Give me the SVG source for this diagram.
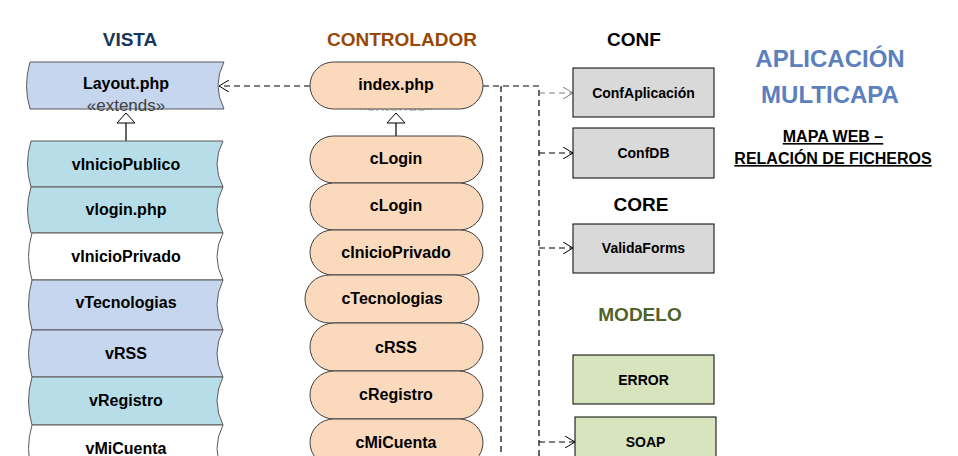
<svg xmlns="http://www.w3.org/2000/svg" width="958" height="456" viewBox="0 0 958 456">
<defs>
<marker id="open" viewBox="0 0 10 12" refX="10" refY="6" markerWidth="10" markerHeight="12" markerUnits="userSpaceOnUse" orient="auto">
<path d="M0,0 L10,6 L0,12" fill="none" stroke="#000" stroke-width="1"/>
</marker>
<marker id="openg" viewBox="0 0 10 12" refX="10" refY="6" markerWidth="10" markerHeight="12" markerUnits="userSpaceOnUse" orient="auto">
<path d="M0,0 L10,6 L0,12" fill="none" stroke="#7f7f7f" stroke-width="1"/>
</marker>
</defs>
<style>
text{font-family:"Liberation Sans",Arial,sans-serif;text-anchor:middle;}
.t{font-weight:bold;font-size:19px;}
.n{font-weight:bold;font-size:16px;fill:#000;}
.b{font-weight:bold;font-size:14px;fill:#000;}
.v{stroke:#595959;stroke-width:1;}
.p{fill:#fad9bd;stroke:#404040;stroke-width:1;}
.g{fill:#d9d9d9;stroke:#000;stroke-width:1;}
.m{fill:#d7e4bd;stroke:#000;stroke-width:1;}
.dash{fill:none;stroke:#000;stroke-width:1.2;stroke-dasharray:6,4;}
.ext{font-size:17px;fill:#404040;}
</style>
<rect width="958" height="456" fill="#fff"/>

<g id="titles">
<text class="t" x="130" y="46" fill="#17365d">VISTA</text>
<text class="t" x="402" y="46" fill="#984806">CONTROLADOR</text>
<text class="t" x="634" y="46" fill="#000">CONF</text>
<text class="t" x="641" y="211" fill="#000">CORE</text>
<text class="t" x="640" y="321" fill="#4f6228">MODELO</text>
<text x="830" y="67" font-weight="bold" font-size="24" fill="#5b80bd">APLICACIÓN</text>
<text x="830" y="103" font-weight="bold" font-size="24" fill="#5b80bd">MULTICAPA</text>
<text x="833" y="142" font-weight="bold" font-size="16" text-decoration="underline" fill="#000">MAPA WEB –</text>
<text x="833" y="164" font-weight="bold" font-size="16" text-decoration="underline" fill="#000">RELACIÓN DE FICHEROS</text>
</g>

<g id="connectors">
<path class="dash" d="M310,86 H219" marker-end="url(#open)"/>
<path class="dash" d="M483,86 H539 V456"/>
<path class="dash" d="M501,86 V456"/>
<path class="dash" d="M539,93 H573" style="stroke:#7f7f7f" marker-end="url(#openg)"/>
<path class="dash" d="M539,153 H573" marker-end="url(#open)"/>
<path class="dash" d="M539,248 H573" marker-end="url(#open)"/>
<path class="dash" d="M539,442 H575" marker-end="url(#open)"/>
<path d="M126,123 V141" stroke="#000" stroke-width="1.2"/>
<path d="M396,123 V136" stroke="#000" stroke-width="1.2"/>
</g>

<g id="vista-layout">
<path class="v" fill="#c6d6ee" d="M30,62 H224 Q212,85.5 224,109 H30 Q23,85.5 30,62 Z"/>
<text class="n" x="126" y="89">Layout.php</text>
<text class="ext" x="126" y="111">«extends»</text>
</g>
<path d="M117,123 L126,113 L135,123 Z" fill="#fff" stroke="#000" stroke-width="1"/>

<g id="vista-vInicioPublico">
<path class="v" fill="#b7dee8" d="M31,141 H223 Q211,164 223,187 H31 Q24,164 31,141 Z"/>
<text class="n" x="126" y="170">vInicioPublico</text>
</g>
<g id="vista-vlogin">
<path class="v" fill="#b7dee8" d="M31,187 H223 Q211,210 223,233 H31 Q24,210 31,187 Z"/>
<text class="n" x="126" y="215">vlogin.php</text>
</g>
<g id="vista-vInicioPrivado">
<path class="v" fill="#ffffff" d="M32,233 H223 Q211,256.5 223,280 H32 Q25,256.5 32,233 Z"/>
<text class="n" x="126" y="262">vInicioPrivado</text>
</g>
<g id="vista-vTecnologias">
<path class="v" fill="#c6d6ee" d="M32,280 H223 Q211,305 223,330 H32 Q25,305 32,280 Z"/>
<text class="n" x="126" y="308">vTecnologias</text>
</g>
<g id="vista-vRSS">
<path class="v" fill="#c6d6ee" d="M32,330 H223 Q211,353.5 223,377 H32 Q25,353.5 32,330 Z"/>
<text class="n" x="126" y="359">vRSS</text>
</g>
<g id="vista-vRegistro">
<path class="v" fill="#b7dee8" d="M32,377 H223 Q211,401 223,425 H32 Q25,401 32,377 Z"/>
<text class="n" x="126" y="406">vRegistro</text>
</g>
<g id="vista-vMiCuenta">
<path class="v" fill="#ffffff" d="M32,425 H223 Q211,448.5 223,472 H32 Q25,448.5 32,425 Z"/>
<text class="n" x="126" y="454">vMiCuenta</text>
</g>

<g id="ctrl-index">
<text class="ext" x="396" y="111" style="fill:#bfbfbf">«extends»</text>
<rect class="p" x="310" y="62" width="173" height="47" rx="23.5"/>
<text class="n" x="396" y="90">index.php</text>
</g>
<path d="M387,123 L396,113 L405,123 Z" fill="#fff" stroke="#000" stroke-width="1"/>
<g id="ctrl-cLogin1">
<rect class="p" x="310" y="136" width="173" height="47" rx="23.5"/>
<text class="n" x="396" y="164">cLogin</text>
</g>
<g id="ctrl-cLogin2">
<rect class="p" x="310" y="183" width="173" height="47" rx="23.5"/>
<text class="n" x="396" y="211">cLogin</text>
</g>
<g id="ctrl-cInicioPrivado">
<rect class="p" x="310" y="230" width="173" height="45" rx="22.5"/>
<text class="n" x="396" y="258">cInicioPrivado</text>
</g>
<g id="ctrl-cTecnologias">
<rect class="p" x="305" y="275" width="174" height="48" rx="24"/>
<text class="n" x="392" y="304">cTecnologias</text>
</g>
<g id="ctrl-cRSS">
<rect class="p" x="310" y="323" width="173" height="48" rx="24"/>
<text class="n" x="396" y="353">cRSS</text>
</g>
<g id="ctrl-cRegistro">
<rect class="p" x="310" y="371" width="173" height="48" rx="24"/>
<text class="n" x="396" y="400">cRegistro</text>
</g>
<g id="ctrl-cMiCuenta">
<rect class="p" x="310" y="419" width="173" height="47" rx="23.5"/>
<text class="n" x="396" y="448">cMiCuenta</text>
</g>

<g id="conf-ConfAplicacion">
<rect class="g" x="573" y="68" width="141" height="49"/>
<text class="b" x="643.5" y="98">ConfAplicación</text>
</g>
<g id="conf-ConfDB">
<rect class="g" x="573" y="128" width="141" height="50"/>
<text class="b" x="643.5" y="158">ConfDB</text>
</g>
<g id="core-ValidaForms">
<rect class="g" x="573" y="224" width="141" height="49"/>
<text class="b" x="643.5" y="253">ValidaForms</text>
</g>
<g id="modelo-ERROR">
<rect class="m" x="573" y="355" width="141" height="49"/>
<text class="b" x="643.5" y="385">ERROR</text>
</g>
<g id="modelo-SOAP">
<rect class="m" x="575" y="417" width="141" height="49"/>
<text class="b" x="645.5" y="447">SOAP</text>
</g>
</svg>
